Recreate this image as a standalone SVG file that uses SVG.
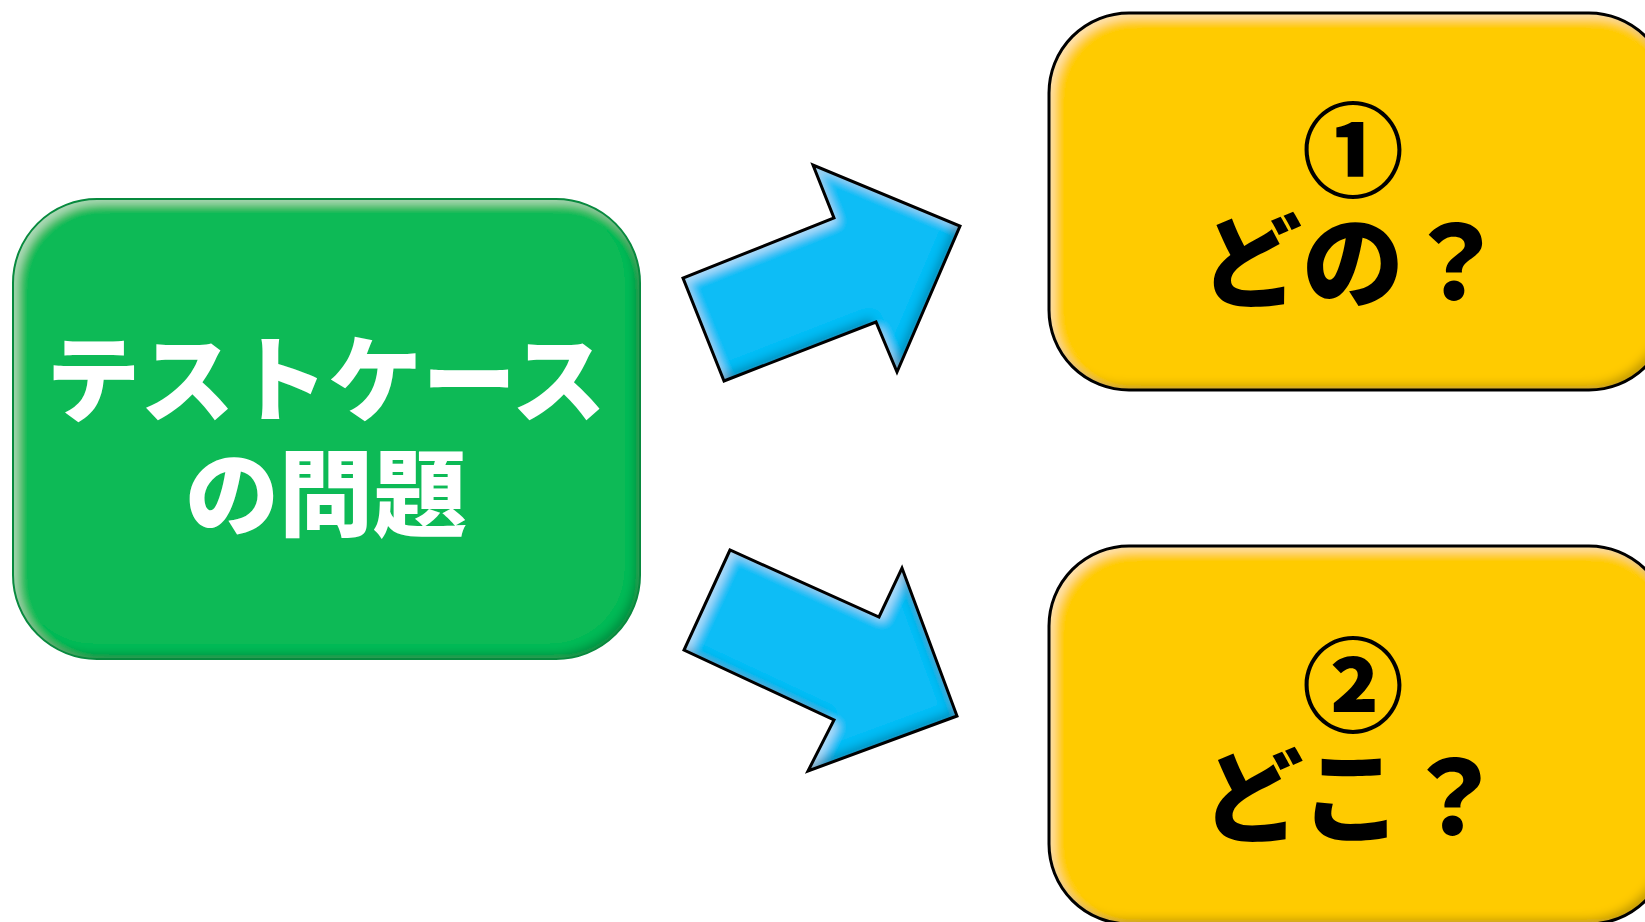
<svg xmlns="http://www.w3.org/2000/svg" width="1645" height="922" viewBox="0 0 1645 922">
<style>
.t{font-family:"Noto Sans CJK JP","Noto Sans CJK SC",sans-serif;font-weight:900;text-anchor:middle;}
.w{fill:#ffffff;font-size:94px;}
.k{fill:#000000;font-size:102px;}
.arrow{fill:#0BBDF6;}
.arrowline{fill:none;stroke:#000;stroke-width:3;stroke-linejoin:miter;}
</style>
<defs>
<filter id="bevel" x="-10%" y="-10%" width="120%" height="120%">
<feGaussianBlur in="SourceAlpha" stdDeviation="5" result="b"/>
<feOffset in="b" dx="5" dy="5" result="o1"/>
<feComposite in="SourceAlpha" in2="o1" operator="out" result="hl"/>
<feFlood flood-color="#ffffff" flood-opacity="0.45"/>
<feComposite in2="hl" operator="in" result="hl2"/>
<feOffset in="b" dx="-5" dy="-5" result="o2"/>
<feComposite in="SourceAlpha" in2="o2" operator="out" result="sh"/>
<feFlood flood-color="#000000" flood-opacity="0.45"/>
<feComposite in2="sh" operator="in" result="sh2"/>
<feMerge><feMergeNode in="SourceGraphic"/><feMergeNode in="hl2"/><feMergeNode in="sh2"/></feMerge>
</filter>
</defs>
<rect width="1645" height="922" fill="#ffffff"/>
<g id="node-testcase">
<rect x="13" y="199" width="627" height="460" rx="84" fill="#09BA57" filter="url(#bevel)"/>
<rect x="13" y="199" width="627" height="460" rx="84" fill="none" stroke="#078a3e" stroke-width="2"/>
<text class="t w" x="326" y="415">テストケース</text>
<text class="t w" x="326" y="529">の問題</text>
</g>
<g id="node-dono">
<rect x="1049" y="13" width="620" height="377" rx="80" fill="#FFCB04" filter="url(#bevel)"/>
<rect x="1049" y="13" width="620" height="377" rx="80" fill="none" stroke="#000" stroke-width="3"/>
<text class="t k" x="1353" y="189">①</text>
<text class="t k" x="1353" y="300">どの？</text>
</g>
<g id="node-doko">
<rect x="1049" y="546" width="620" height="378" rx="80" fill="#FFCB04" filter="url(#bevel)"/>
<rect x="1049" y="546" width="620" height="378" rx="80" fill="none" stroke="#000" stroke-width="3"/>
<text class="t k" x="1353" y="724">②</text>
<text class="t k" x="1353" y="835">どこ？</text>
</g>
<g id="connectors">
<polygon class="arrow" filter="url(#bevel)" points="724,381 683,278 834,218 813,165 960,226 897,372 876,322"/>
<polygon class="arrowline" points="724,381 683,278 834,218 813,165 960,226 897,372 876,322"/>
<polygon class="arrow" filter="url(#bevel)" points="730,550 684,650 834,720 808,771 957,716 902,568 879,617"/>
<polygon class="arrowline" points="730,550 684,650 834,720 808,771 957,716 902,568 879,617"/>
</g>
</svg>
